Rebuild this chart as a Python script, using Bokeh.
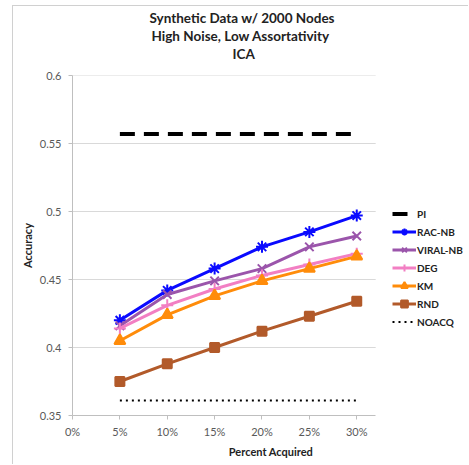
from bokeh.plotting import figure
from bokeh.embed import file_html
from bokeh.resources import INLINE
from bokeh.models import (CustomJSTickFormatter, FixedTicker, Range1d, Legend, LegendItem, Title)

# ---- data ----
pct = [0.05, 0.10, 0.15, 0.20, 0.25, 0.30]
rac_nb = [0.420, 0.442, 0.458, 0.474, 0.485, 0.497]
viral_nb = [0.416, 0.439, 0.449, 0.458, 0.474, 0.482]
deg = [0.414, 0.431, 0.443, 0.453, 0.461, 0.469]
km = [0.405, 0.424, 0.438, 0.449, 0.458, 0.467]
rnd = [0.375, 0.388, 0.400, 0.412, 0.423, 0.434]
pi = [0.557] * 6
noacq = [0.361] * 6
x_ticks = [0, 0.05, 0.10, 0.15, 0.20, 0.25, 0.30]
y_ticks = [0.35, 0.40, 0.45, 0.50, 0.55, 0.60]
title_lines = ["Synthetic Data w/ 2000 Nodes", "High Noise, Low Assortativity", "ICA"]
title_offsets = [77, 79, 160]
X_MAX = 0.32

FONT = "Lato"
p = figure(width=456, height=459, output_backend="svg", toolbar_location=None,
           x_range=Range1d(0, 0.419), y_range=Range1d(0.35, 0.6),
           min_border_left=59, min_border_right=0, min_border_top=69, min_border_bottom=50,
           margin=(5, 0, 0, 12))
p.styles = {"border-left": "1px solid #d0d0d0", "border-top": "1px solid #d0d0d0"}
p.outline_line_color = None
p.background_fill_color = "white"
p.border_fill_color = "white"
p.title = None

# spacer between the title block and the plot area
p.add_layout(Title(text=" ", text_font_size="11px", standoff=0), "above")
for line, off in zip(reversed(title_lines), reversed(title_offsets)):
    t = Title(text=line, align="left", text_font=FONT, text_font_size="13.5px",
              text_font_style="bold", text_color="#222222", offset=off, standoff=0,
              text_line_height=1.05)
    p.add_layout(t, "above")

# axes
p.xaxis.ticker = FixedTicker(ticks=x_ticks)
p.yaxis.ticker = FixedTicker(ticks=y_ticks)
p.xaxis.bounds = (0, X_MAX)
p.xaxis.formatter = CustomJSTickFormatter(code="return Math.round(tick*100) + '%';")
p.yaxis.formatter = CustomJSTickFormatter(code="return String(parseFloat(tick.toFixed(2)));")
for ax in (p.xaxis, p.yaxis):
    ax.axis_line_color = "#bfbfbf"
    ax.major_tick_line_color = "#bfbfbf"
    ax.minor_tick_line_color = None
    ax.major_tick_in = 0
    ax.major_tick_out = 4
    ax.major_label_text_font = FONT
    ax.major_label_text_font_size = "11px"
    ax.major_label_text_color = "#595959"
    ax.axis_label_text_font = FONT
    ax.axis_label_text_font_size = "11px"
    ax.axis_label_text_font_style = "bold"
    ax.axis_label_text_color = "#222222"
p.xaxis.axis_label = "Percent Acquired"
p.yaxis.axis_label = "Accuracy"
p.yaxis.major_label_standoff = 7
p.xaxis.major_label_standoff = 5
p.xaxis.axis_label_standoff = 4
p.yaxis.axis_label_standoff = 3
p.xgrid.grid_line_color = None
p.ygrid.grid_line_color = None

# horizontal gridlines limited to the plot area
grid_y = y_ticks[1:]
p.segment(x0=[0] * len(grid_y), x1=[X_MAX] * len(grid_y), y0=grid_y, y1=grid_y,
          line_color="#d9d9d9", line_width=1)

items = []
r = p.line(pct, pi, line_color="black", line_width=4, line_dash="15 9")
items.append(LegendItem(label="PI", renderers=[r]))

series = [
    ("RAC-NB", rac_nb, "#0a0aff", "asterisk", 12),
    ("VIRAL-NB", viral_nb, "#9b55ab", "x", 12),
    ("DEG", deg, "#f27fc3", "cross", 12),
    ("KM", km, "#ff8c0a", "triangle", 11),
    ("RND", rnd, "#b25a2a", "square", 9),
]
for name, ys, col, mk, sz in series:
    rl = p.line(pct, ys, line_color=col, line_width=3)
    rs = p.scatter(pct, ys, marker=mk, size=sz, line_color=col, fill_color=col, line_width=2)
    items.append(LegendItem(label=name, renderers=[rl, rs]))

r = p.line(pct, noacq, line_color="black", line_width=2, line_dash="2 4")
items.append(LegendItem(label="NOACQ", renderers=[r]))

leg = Legend(items=items, location=(320, 85), padding=0, margin=0, spacing=1,
             glyph_width=24, glyph_height=17, label_height=17, label_standoff=1,
             label_text_font=FONT, label_text_font_size="10px", label_text_font_style="bold",
             label_text_color="#222222", border_line_color=None, background_fill_alpha=0)
p.add_layout(leg)

open("out.html", "w").write(file_html(p, INLINE))
